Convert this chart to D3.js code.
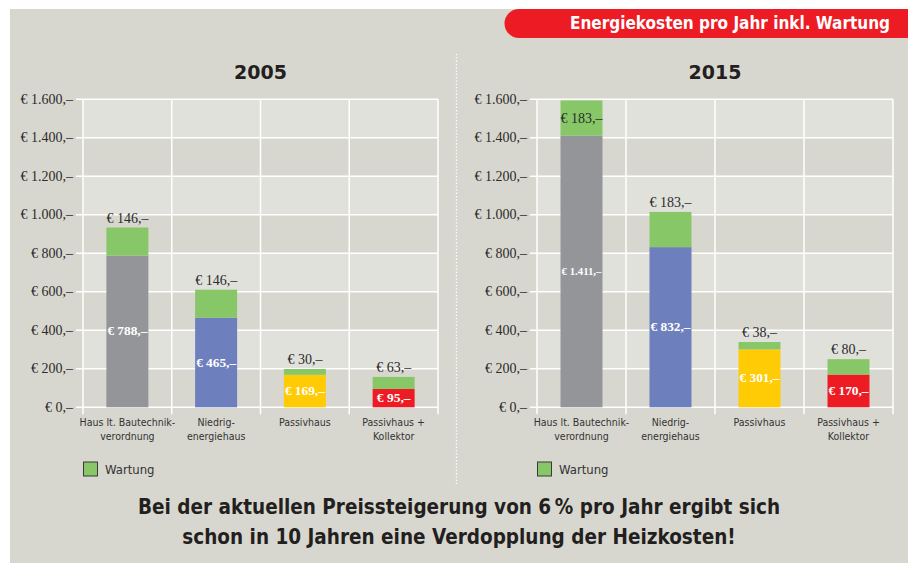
<!DOCTYPE html>
<html>
<head>
<meta charset="utf-8">
<script src="https://cdn.jsdelivr.net/npm/d3@7"></script>
<style>
  body { margin: 0; background: #fff; }
  svg { display: block; }
</style>
</head>
<body>
<div id="chart"></div>
<script>
// data
const categories = [
  ["Haus lt. Bautechnik-", "verordnung"],
  ["Niedrig-", "energiehaus"],
  ["Passivhaus"],
  ["Passivhaus +", "Kollektor"]
];
const years = ["2005", "2015"];
const energie2005 = [788, 465, 169, 95];
const wartung2005 = [146, 146, 30, 63];
const energie2015 = [1411, 832, 301, 170];
const wartung2015 = [183, 183, 38, 80];
const yTicks = [0, 200, 400, 600, 800, 1000, 1200, 1400, 1600];
const legendLabel = "Wartung";
const bannerText = "Energiekosten pro Jahr inkl. Wartung";
const footerLines = [
  "Bei der aktuellen Preissteigerung von 6\u2009% pro Jahr ergibt sich",
  "schon in 10 Jahren eine Verdopplung der Heizkosten!"
];

const energyColors = ["#939598", "#6e7fbd", "#ffcb05", "#ed1c24"];
const greenColor = "#88c767";
const panelBg = "#d8d7cf";
const bandLight = "#e1e1dc";
const serif = "'Liberation Serif', 'DejaVu Serif', serif";
const sans = "'DejaVu Sans Condensed', 'DejaVu Sans', sans-serif";

const W = 918, H = 563;
const svg = d3.select("#chart").append("svg")
  .attr("width", W)
  .attr("height", H);

// background panel
svg.append("rect")
  .attr("x", 10).attr("y", 9)
  .attr("width", 898).attr("height", H - 9)
  .attr("fill", panelBg);

// red banner with rounded left end
svg.append("path")
  .attr("d", "M908,9 L519,9 A14.5,14.5 0 0 0 519,38 L908,38 Z")
  .attr("fill", "#ed1c24");
svg.append("text")
  .attr("x", 890).attr("y", 29)
  .attr("text-anchor", "end")
  .attr("fill", "#fff")
  .style("font-family", sans)
  .style("font-weight", "bold")
  .style("font-size", "17px")
  .text(bannerText);

// dotted divider
svg.append("line")
  .attr("x1", 456.5).attr("x2", 456.5)
  .attr("y1", 54).attr("y2", 484)
  .attr("stroke", "#fff")
  .attr("stroke-width", 1.3)
  .attr("stroke-dasharray", "1.3,2");

const fmt = v => "€ " + d3.format(",")(v).replace(/,/g, ".") + ",–";

function drawPanel(left, right, title, energie, wartung) {
  const g = svg.append("g");

  const y = d3.scaleLinear().domain([0, 1600]).range([407.3, 99.3]);
  const x = d3.scaleBand().domain(d3.range(categories.length)).range([left, right]);
  const barW = 42;

  // alternating bands
  g.selectAll("rect.band")
    .data(yTicks.slice(0, -1))
    .enter().append("rect")
    .attr("class", "band")
    .attr("x", left).attr("width", right - left)
    .attr("y", d => y(d + 200)).attr("height", d => y(d) - y(d + 200))
    .attr("fill", (d, i) => i % 2 === 0 ? panelBg : bandLight);

  // horizontal grid lines
  g.selectAll("line.h")
    .data(yTicks)
    .enter().append("line")
    .attr("x1", left - 7).attr("x2", right)
    .attr("y1", d => y(d)).attr("y2", d => y(d))
    .attr("stroke", "#fff").attr("stroke-width", 1.5);

  // vertical grid lines
  const vx = d3.range(categories.length + 1).map(i => left + i * x.bandwidth());
  g.selectAll("line.v")
    .data(vx)
    .enter().append("line")
    .attr("x1", d => d).attr("x2", d => d)
    .attr("y1", y(1600)).attr("y2", y(0) + 7)
    .attr("stroke", "#fff").attr("stroke-width", 1.5);

  // y tick labels
  g.selectAll("text.tick")
    .data(yTicks)
    .enter().append("text")
    .attr("x", left - 10)
    .attr("y", d => y(d) + 4.5)
    .attr("text-anchor", "end")
    .attr("fill", "#2b2b2b")
    .style("font-family", serif)
    .style("font-size", "14px")
    .text(fmt);

  // title
  g.append("text")
    .attr("x", (left + right) / 2)
    .attr("y", 79)
    .attr("text-anchor", "middle")
    .attr("fill", "#231f20")
    .style("font-family", "'DejaVu Sans', sans-serif")
    .style("font-weight", "bold")
    .style("font-size", "19px")
    .text(title);

  const rows = energie.map((e, i) => ({ i, e, w: wartung[i] }));

  // energy segment
  g.selectAll("rect.energy")
    .data(rows)
    .enter().append("rect")
    .attr("x", d => x(d.i) + (x.bandwidth() - barW) / 2)
    .attr("width", barW)
    .attr("y", d => y(d.e))
    .attr("height", d => y(0) - y(d.e))
    .attr("fill", d => energyColors[d.i]);

  // maintenance segment
  g.selectAll("rect.wartung")
    .data(rows)
    .enter().append("rect")
    .attr("x", d => x(d.i) + (x.bandwidth() - barW) / 2)
    .attr("width", barW)
    .attr("y", d => y(d.e + d.w))
    .attr("height", d => y(d.e) - y(d.e + d.w))
    .attr("fill", greenColor);

  // energy labels inside bar
  g.selectAll("text.elabel")
    .data(rows)
    .enter().append("text")
    .attr("x", d => x(d.i) + x.bandwidth() / 2)
    .attr("y", d => (y(0) + y(d.e)) / 2 + 4)
    .attr("text-anchor", "middle")
    .attr("fill", "#fff")
    .style("font-family", serif)
    .style("font-weight", "bold")
    .style("font-size", "13.5px")
    .text(d => fmt(d.e))
    .each(function() {
      const len = this.getComputedTextLength();
      if (len > barW - 2) d3.select(this).style("font-size", (13.5 * (barW - 2) / len) + "px");
    });

  // maintenance labels, above the bar or inside when there is no room
  g.selectAll("text.wlabel")
    .data(rows)
    .enter().append("text")
    .attr("x", d => x(d.i) + x.bandwidth() / 2)
    .attr("y", d => {
      const top = y(d.e + d.w);
      return top - 14 < y(1600) ? (top + y(d.e)) / 2 + 4.5 : top - 5;
    })
    .attr("text-anchor", "middle")
    .attr("fill", "#2b2b2b")
    .style("font-family", serif)
    .style("font-size", "14px")
    .text(d => fmt(d.w));

  // category labels
  const cat = g.selectAll("text.cat")
    .data(categories)
    .enter().append("text")
    .attr("x", (d, i) => x(i) + x.bandwidth() / 2)
    .attr("y", 426)
    .attr("text-anchor", "middle")
    .attr("fill", "#333")
    .style("font-family", sans)
    .style("font-size", "10.5px");
  cat.selectAll("tspan")
    .data(d => d)
    .enter().append("tspan")
    .attr("x", function() { return this.parentNode.getAttribute("x"); })
    .attr("dy", (d, i) => i === 0 ? 0 : 13.5)
    .text(d => d);

  // legend
  g.append("rect")
    .attr("x", left + 0.5).attr("y", 462)
    .attr("width", 14).attr("height", 14)
    .attr("fill", greenColor)
    .attr("stroke", "#3a3a3a").attr("stroke-width", 1);
  g.append("text")
    .attr("x", left + 22).attr("y", 474)
    .attr("fill", "#333")
    .style("font-family", sans)
    .style("font-size", "13px")
    .text(legendLabel);
}

drawPanel(83, 438, years[0], energie2005, wartung2005);
drawPanel(537, 893, years[1], energie2015, wartung2015);

// footer message
svg.selectAll("text.footer")
  .data(footerLines)
  .enter().append("text")
  .attr("x", 459)
  .attr("y", (d, i) => 514 + i * 30)
  .attr("text-anchor", "middle")
  .attr("fill", "#231f20")
  .style("font-family", sans)
  .style("font-weight", "bold")
  .style("font-size", "20.5px")
  .text(d => d);
</script>
</body>
</html>
